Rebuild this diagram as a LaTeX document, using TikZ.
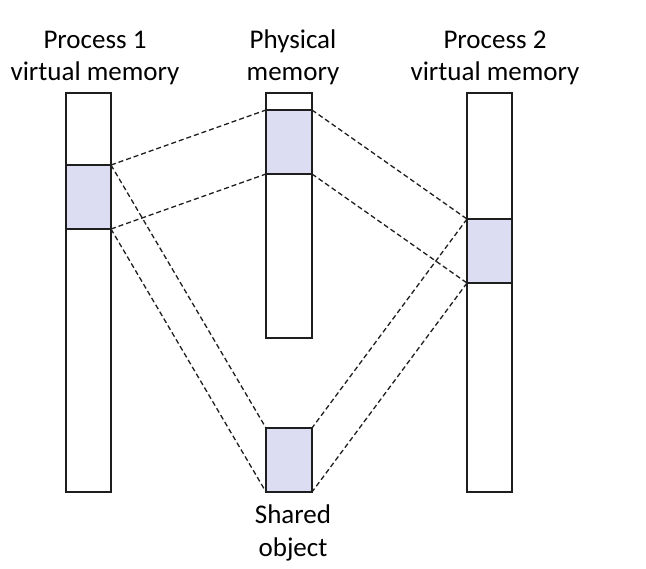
\documentclass[tikz,border=0pt]{standalone}
\usepackage{fontspec}
\setmainfont{Carlito}
\definecolor{shade}{RGB}{220,221,242}
\definecolor{edge}{RGB}{30,30,30}
\begin{document}
\begin{tikzpicture}[x=1pt,y=-1pt,
  col/.style={draw=edge, line width=1.3pt, fill=white, inner sep=0pt, outer sep=0pt,
              minimum width=45pt, anchor=north west},
  seg/.style={col, fill=shade},
  conn/.style={draw=edge, dash pattern=on 5pt off 3pt, line width=1.3pt},
  lbl/.style={font=\fontsize{27}{32}\selectfont, anchor=base, inner sep=0pt}]
\useasboundingbox (0,0) rectangle (646,569);
% columns
\node[col, minimum height=399pt] (p1) at (66,93) {};
\node[seg, minimum height=64pt] (p1s) at (66,165) {};
\node[col, minimum width=46pt, minimum height=245pt] (pm) at (266,93) {};
\node[seg, minimum width=46pt, minimum height=64pt] (pms) at (266,110) {};
\node[col, minimum height=399pt] (p2) at (467,93) {};
\node[seg, minimum height=64pt] (p2s) at (467,219) {};
\node[seg, minimum width=46pt, minimum height=64pt] (so) at (266,428) {};
% connectors
\draw[conn] (p1s.north east) -- (pms.north west);
\draw[conn] (p1s.south east) -- (pms.south west);
\draw[conn] (pms.north east) -- (p2s.north west);
\draw[conn] (pms.south east) -- (p2s.south west);
\draw[conn] (p1s.north east) -- (so.north west);
\draw[conn] (p1s.south east) -- (so.south west);
\draw[conn] (p2s.north west) -- (so.north east);
\draw[conn] (p2s.south west) -- (so.south east);
% labels
\node[lbl] (t1a) at (95,49) {Process 1};
\node[lbl] (t1b) at (95,81) {virtual memory};
\node[lbl] (t2a) at (293,49) {Physical};
\node[lbl] (t2b) at (293,81) {memory};
\node[lbl] (t3a) at (495,49) {Process 2};
\node[lbl] (t3b) at (495,81) {virtual memory};
\node[lbl] (t4a) at (293,524) {Shared};
\node[lbl] (t4b) at (293,556) {object};
\end{tikzpicture}
\end{document}
